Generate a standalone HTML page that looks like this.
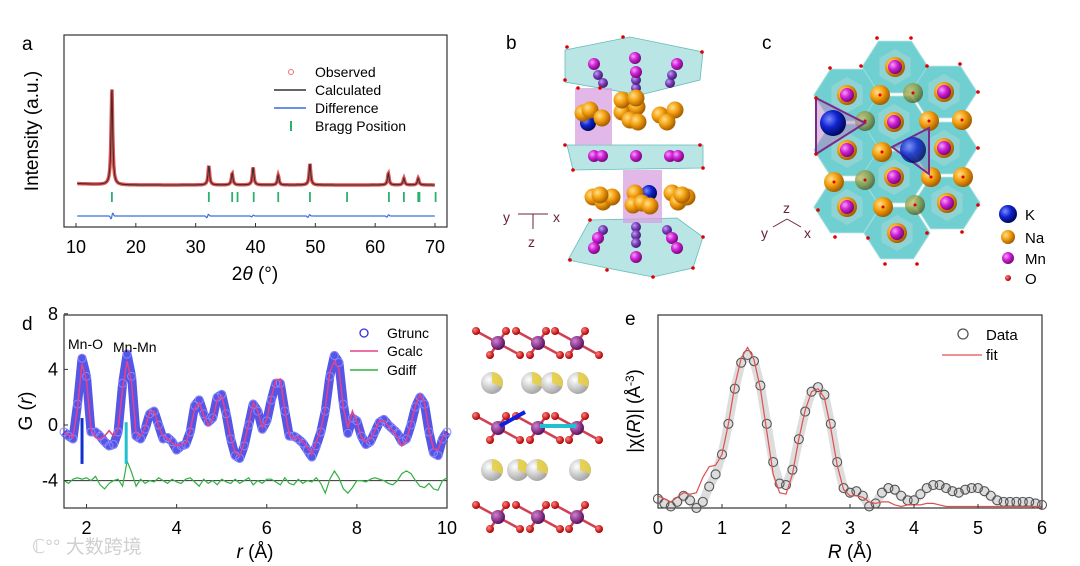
<!DOCTYPE html>
<html><head><meta charset="utf-8"><style>
html,body{margin:0;padding:0;background:#fff;}
svg{display:block;font-family:"Liberation Sans","Noto Sans CJK SC",sans-serif;}
</style></head><body>
<svg id="fig" width="1080" height="566" viewBox="0 0 1080 566" xmlns="http://www.w3.org/2000/svg">
<defs>
<radialGradient id="gMn" cx="35%" cy="35%" r="65%"><stop offset="0" stop-color="#f6a0f6"/><stop offset="0.5" stop-color="#d020d8"/><stop offset="1" stop-color="#7a0a7a"/></radialGradient>
<radialGradient id="gMn2" cx="35%" cy="35%" r="65%"><stop offset="0" stop-color="#c0a0f0"/><stop offset="0.5" stop-color="#8040c0"/><stop offset="1" stop-color="#402070"/></radialGradient>
<radialGradient id="gNa" cx="35%" cy="35%" r="65%"><stop offset="0" stop-color="#ffe08a"/><stop offset="0.5" stop-color="#f4a010"/><stop offset="1" stop-color="#a86000"/></radialGradient>
<radialGradient id="gNaG" cx="35%" cy="35%" r="65%"><stop offset="0" stop-color="#c8c070"/><stop offset="0.6" stop-color="#8a9a40"/><stop offset="1" stop-color="#506030"/></radialGradient>
<radialGradient id="gK" cx="35%" cy="35%" r="65%"><stop offset="0" stop-color="#7a8cff"/><stop offset="0.5" stop-color="#1024d0"/><stop offset="1" stop-color="#000a60"/></radialGradient>
<radialGradient id="gO" cx="35%" cy="35%" r="65%"><stop offset="0" stop-color="#ff8080"/><stop offset="1" stop-color="#b00000"/></radialGradient>
<radialGradient id="gW" cx="35%" cy="35%" r="65%"><stop offset="0" stop-color="#ffffff"/><stop offset="1" stop-color="#a8a8a8"/></radialGradient>
<radialGradient id="gP" cx="35%" cy="35%" r="65%"><stop offset="0" stop-color="#d080d0"/><stop offset="1" stop-color="#601060"/></radialGradient>
</defs>

<g>
<text x="22" y="50" font-size="19">a</text>
<rect x="64" y="35" width="383" height="192" fill="none" stroke="#333" stroke-width="1.2"/>
<g id="aMarks"></g>
<g id="aTicks"></g>
<text transform="translate(38,131) rotate(-90)" font-size="19" text-anchor="middle">Intensity (a.u.)</text>
<text x="255" y="280" font-size="19" text-anchor="middle">2<tspan font-style="italic">θ</tspan> (°)</text>
<g font-size="14">
<circle cx="291" cy="72" r="2.5" fill="none" stroke="#f07070"/>
<text x="315" y="77">Observed</text>
<line x1="274" y1="90" x2="306" y2="90" stroke="#333" stroke-width="1.5"/>
<text x="315" y="95">Calculated</text>
<line x1="274" y1="108" x2="306" y2="108" stroke="#3a6fd8" stroke-width="1.5"/>
<text x="315" y="113">Difference</text>
<line x1="291" y1="121" x2="291" y2="131" stroke="#2cb070" stroke-width="2"/>
<text x="315" y="131">Bragg Position</text>
</g>
</g>

<g>
<text x="506" y="49" font-size="19">b</text>
<g id="bStruct"></g>
<g fill="#6a2040" font-size="14">
<text x="503" y="222">y</text><text x="553" y="222">x</text><text x="528" y="247">z</text>
<line x1="518" y1="214" x2="548" y2="214" stroke="#6a2040"/><line x1="533" y1="214" x2="533" y2="229" stroke="#6a2040"/>
</g>
</g>

<g>
<text x="762" y="49" font-size="19">c</text>
<g id="cStruct"></g>
<g fill="#6a2040" font-size="14">
<text x="761" y="238">y</text><text x="783" y="213">z</text><text x="804" y="238">x</text>
<line x1="787" y1="219" x2="773" y2="227" stroke="#6a2040"/><line x1="787" y1="219" x2="801" y2="227" stroke="#6a2040"/>
</g>
<g font-size="15">
<circle cx="1008" cy="214" r="9" fill="url(#gK)"/><text x="1025" y="220">K</text>
<circle cx="1008" cy="237" r="7" fill="url(#gNa)"/><text x="1025" y="243">Na</text>
<circle cx="1008" cy="258" r="6" fill="url(#gMn)"/><text x="1025" y="264">Mn</text>
<circle cx="1008" cy="278" r="3" fill="url(#gO)"/><text x="1025" y="284">O</text>
</g>
</g>

<g>
<text x="22" y="330" font-size="19">d</text>
<rect x="64" y="315" width="383" height="193" fill="none" stroke="#333" stroke-width="1.2"/>
<g id="dMarks"></g>
<g id="dTicks"></g>
<text transform="translate(32,411) rotate(-90)" font-size="19" text-anchor="middle">G (<tspan font-style="italic">r</tspan>)</text>
<text x="255" y="558" font-size="19" text-anchor="middle"><tspan font-style="italic">r</tspan> (Å)</text>
<text x="68" y="349" font-size="14">Mn-O</text>
<text x="113" y="352" font-size="14">Mn-Mn</text>
<g font-size="14">
<circle cx="364" cy="333" r="4" fill="none" stroke="#3030e0" stroke-width="1.3"/><text x="387" y="338">Gtrunc</text>
<line x1="350" y1="351" x2="378" y2="351" stroke="#e8408a" stroke-width="1.5"/><text x="387" y="356">Gcalc</text>
<line x1="350" y1="370" x2="378" y2="370" stroke="#30b040" stroke-width="1.5"/><text x="387" y="375">Gdiff</text>
</g>
</g>

<g id="dStruct"></g>

<g>
<text x="625" y="325" font-size="19">e</text>
<rect x="658" y="315" width="384" height="193" fill="none" stroke="#333" stroke-width="1.2"/>
<g id="eMarks"></g>
<g id="eTicks"></g>
<text transform="translate(640,411) rotate(-90)" font-size="18" text-anchor="middle">|χ(<tspan font-style="italic">R</tspan>)| (Å<tspan dy="-6" font-size="12">-3</tspan><tspan dy="6">)</tspan></text>
<text x="850" y="558" font-size="19" text-anchor="middle"><tspan font-style="italic">R</tspan> (Å)</text>
<g font-size="15">
<circle cx="963" cy="334" r="5" fill="none" stroke="#555" stroke-width="1.3"/><text x="986" y="340">Data</text>
<line x1="942" y1="355" x2="982" y2="355" stroke="#e05050" stroke-width="1.2"/><text x="986" y="360">fit</text>
</g>
</g>

<text x="32" y="553" font-size="19" fill="#d0d0d0">ℂ°° 大数跨境</text>
</svg>
<script>
// ---------- Panel a data ----------
const aPeakPos = [16.0, 32.2, 36.1, 39.6, 43.8, 49.1, 62.2, 64.8, 67.2];
const aPeakHeight = [100, 20, 12, 18, 10, 22, 12, 7, 7];
const aBraggPos = [16.0, 32.2, 36.1, 37.0, 39.7, 43.8, 49.1, 55.3, 62.3, 64.8, 67.2, 67.4, 70.1];
const aDiffPos = [16.0, 32.0, 39.5, 48.9, 62.1];
const aDiffAmp = [5, 3, 1.5, 2.5, 2];
const aXTicks = [10, 20, 30, 40, 50, 60, 70];

// ---------- Panel d data ----------
const dR = [1.5,1.6,1.7,1.8,1.9,2.0,2.1,2.2,2.3,2.4,2.5,2.6,2.7,2.8,2.9,3.0,3.1,3.2,3.3,3.4,3.5,3.6,3.7,3.8,3.9,4.0,4.1,4.2,4.3,4.4,4.5,4.6,4.7,4.8,4.9,5.0,5.1,5.2,5.3,5.4,5.5,5.6,5.7,5.8,5.9,6.0,6.1,6.2,6.3,6.4,6.5,6.6,6.7,6.8,6.9,7.0,7.1,7.2,7.3,7.4,7.5,7.6,7.7,7.8,7.9,8.0,8.1,8.2,8.3,8.4,8.5,8.6,8.7,8.8,8.9,9.0,9.1,9.2,9.3,9.4,9.5,9.6,9.7,9.8,9.9,10.0];
const dGtrunc = [-0.5,-0.8,-1.0,1.5,4.8,3.5,-0.5,-0.5,-0.8,-1.2,-1.5,-1.4,-0.5,3.0,5.1,3.5,-0.8,-1.0,-0.3,0.8,1.0,0.0,-1.0,-0.9,-1.2,-1.8,-1.5,-1.4,-0.5,1.4,1.8,0.8,0.2,0.5,2.0,2.2,0.8,-1.0,-2.2,-2.4,-1.5,0.0,1.5,1.0,-0.3,0.3,1.8,3.0,3.0,1.0,-0.8,-0.8,-1.0,-1.3,-1.8,-2.3,-1.5,-0.5,1.0,3.5,5.0,4.5,1.5,-0.6,0.5,0.3,-0.8,-1.4,-1.2,-0.5,0.2,0.4,0.0,-0.3,-0.6,-1.2,-1.0,0.0,1.3,2.0,1.5,-0.5,-2.0,-2.2,-1.0,-0.5];
const dGcalc = [-0.6,-0.7,-0.9,1.2,4.4,3.2,-0.3,-0.9,-1.0,-0.8,-0.4,-0.8,-0.3,2.6,4.6,3.0,-0.6,-0.8,-0.2,0.9,1.0,-0.1,-0.8,-1.0,-1.3,-1.5,-1.4,-1.3,-0.4,1.2,1.6,0.7,0.0,0.4,1.8,2.1,0.7,-0.9,-2.0,-2.2,-1.3,0.1,1.6,1.0,-0.2,0.4,2.0,3.2,3.3,1.1,-0.7,-1.0,-0.9,-1.2,-1.6,-2.1,-1.2,-0.3,1.2,3.8,4.6,4.0,1.2,-0.2,1.0,0.2,-0.9,-1.2,-1.0,-0.4,0.3,0.3,-0.1,-0.4,-0.9,-1.5,-1.1,0.1,1.4,2.2,1.6,-0.4,-1.7,-1.8,-0.9,-0.6];
const dGdiff = [-4.0,-4.2,-3.9,-3.8,-3.9,-3.8,-4.0,-3.7,-4.3,-4.6,-4.2,-4.0,-3.9,-4.4,-2.6,-3.4,-4.4,-3.9,-4.2,-4.0,-4.1,-3.8,-4.0,-4.2,-3.9,-4.1,-4.2,-3.9,-3.8,-4.1,-4.4,-3.9,-4.2,-4.0,-4.3,-3.9,-4.1,-4.2,-3.9,-4.2,-4.0,-3.8,-4.3,-4.0,-4.2,-3.9,-3.9,-4.1,-4.3,-3.8,-4.2,-4.3,-3.9,-4.2,-4.0,-4.1,-3.8,-4.2,-4.9,-3.9,-3.3,-3.8,-4.6,-4.9,-4.5,-4.0,-4.0,-4.1,-3.9,-3.8,-3.9,-4.0,-4.2,-4.3,-4.0,-3.5,-3.3,-3.5,-4.0,-4.4,-4.5,-4.2,-4.6,-4.7,-4.0,-3.8];
const dXTicks = [2, 4, 6, 8, 10];
const dYTicks = [-4, 0, 4, 8];

// ---------- Panel e data ----------
const eR = [0,0.1,0.2,0.3,0.4,0.5,0.6,0.7,0.8,0.9,1.0,1.1,1.2,1.3,1.4,1.5,1.6,1.7,1.8,1.9,2.0,2.1,2.2,2.3,2.4,2.5,2.6,2.7,2.8,2.9,3.0,3.1,3.2,3.3,3.4,3.5,3.6,3.7,3.8,3.9,4.0,4.1,4.2,4.3,4.4,4.5,4.6,4.7,4.8,4.9,5.0,5.1,5.2,5.3,5.4,5.5,5.6,5.7,5.8,5.9,6.0];
const eData = [0.06,0.03,0.01,0.04,0.08,0.05,0.0,0.04,0.14,0.22,0.35,0.55,0.78,0.95,1.0,0.96,0.8,0.55,0.3,0.16,0.15,0.25,0.45,0.63,0.76,0.79,0.74,0.55,0.3,0.13,0.1,0.11,0.08,0.01,0.03,0.1,0.13,0.12,0.08,0.05,0.05,0.09,0.13,0.15,0.15,0.13,0.11,0.1,0.12,0.13,0.13,0.11,0.08,0.05,0.04,0.04,0.04,0.04,0.04,0.03,0.02];
const eFit = [0.08,0.06,0.04,0.07,0.1,0.09,0.1,0.2,0.27,0.28,0.35,0.55,0.8,0.98,1.05,0.97,0.78,0.5,0.22,0.1,0.09,0.22,0.45,0.64,0.76,0.78,0.72,0.52,0.28,0.12,0.08,0.08,0.07,0.04,0.03,0.04,0.04,0.02,0.01,0.02,0.02,0.02,0.03,0.03,0.02,0.01,0.01,0.01,0.01,0.01,0.01,0.01,0.01,0.01,0.01,0.01,0.01,0.01,0.01,0.01,0.01];
const eXTicks = [0, 1, 2, 3, 4, 5, 6];

const NS = "http://www.w3.org/2000/svg";
function mk(tag, attrs, parent){const e=document.createElementNS(NS,tag);for(const k in attrs)e.setAttribute(k,attrs[k]);parent.appendChild(e);return e;}
function pathOf(xs, ys){return xs.map((x,i)=>(i?'L':'M')+x.toFixed(1)+' '+ys[i].toFixed(1)).join(' ');}

// ----- Panel a -----
const ax = v => 76 + (v-10)*(359/60);
const ay = v => 185 - v*0.97;
(function(){
  const g = document.getElementById('aMarks');
  const xs=[], calc=[], dif=[];
  for(let t=10.2; t<=70; t+=0.06){
    let c = Math.max(0, 1.5 - (t-10)*0.25);
    aPeakPos.forEach((p,i)=>{const w=0.16; const z=(t-p)/w; c += aPeakHeight[i]/(1+z*z);});
    let d=0;
    aDiffPos.forEach((p,i)=>{const z=(t-p)/0.25; d += aDiffAmp[i]*Math.exp(-(z*z))*Math.sin((t-p)*6);});
    xs.push(ax(t)); calc.push(ay(c)); dif.push(216 - d);
  }
  const band = mk('path',{d:pathOf(xs,calc),fill:'none',stroke:'#e83030','stroke-width':3.5,'stroke-opacity':0.85},g);
  
  
  const cl = mk('path',{d:pathOf(xs,calc),fill:'none',stroke:'#333','stroke-width':1.1},g);
  
  
  const df = mk('path',{d:pathOf(xs,dif),fill:'none',stroke:'#3a6fd8','stroke-width':1.2},g);
  
  
  aBraggPos.forEach(p=>{
    const b = mk('line',{x1:ax(p),x2:ax(p),y1:192,y2:202,stroke:'#2cb070','stroke-width':1.8},g);
    
    
  });
  const tg = document.getElementById('aTicks');
  aXTicks.forEach(t=>{
    mk('line',{x1:ax(t),x2:ax(t),y1:227,y2:223,stroke:'#333'},tg);
    const tx = mk('text',{x:ax(t),y:253,'font-size':18,'text-anchor':'middle'},tg);
    tx.textContent=t;
    
    
  });
})();

// ----- Panel d -----
const dx = v => 64 + (v-1.5)*(383/8.5);
const dy = v => 425 - v*13.9;
(function(){
  const g = document.getElementById('dMarks');
  mk('line',{x1:64,x2:447,y1:dy(-4),y2:dy(-4),stroke:'#333','stroke-width':1},g);
  const xs=dR.map(dx);
  const band = mk('path',{d:pathOf(xs,dGtrunc.map(dy)),fill:'none',stroke:'#2a2ae0','stroke-width':9,'stroke-opacity':0.8,'stroke-linejoin':'round'},g);
  
  
  dR.forEach((r,i)=>{
    const c = mk('circle',{cx:dx(r),cy:dy(dGtrunc[i]),r:4,fill:'none',stroke:'#8888ff','stroke-width':1},g);
    
    
  });
  const cl = mk('path',{d:pathOf(xs,dGcalc.map(dy)),fill:'none',stroke:'#e8408a','stroke-width':1.5},g);
  
  
  const df = mk('path',{d:pathOf(xs,dGdiff.map(dy)),fill:'none',stroke:'#30b040','stroke-width':1.2},g);
  
  
  const m1 = mk('line',{x1:dx(1.9),x2:dx(1.9),y1:dy(0.5),y2:dy(-2.8),stroke:'#1030d0','stroke-width':3},g);
  
  
  const m2 = mk('line',{x1:dx(2.88),x2:dx(2.88),y1:dy(0.2),y2:dy(-2.8),stroke:'#20c0d0','stroke-width':3},g);
  
  
  const tg = document.getElementById('dTicks');
  dXTicks.forEach(t=>{
    mk('line',{x1:dx(t),x2:dx(t),y1:508,y2:504,stroke:'#333'},tg);
    const tx = mk('text',{x:dx(t),y:534,'font-size':18,'text-anchor':'middle'},tg);
    tx.textContent=t;
    
    
  });
  dYTicks.forEach(t=>{
    mk('line',{x1:64,x2:68,y1:dy(t),y2:dy(t),stroke:'#333'},tg);
    const tx = mk('text',{x:58,y:dy(t)+6,'font-size':18,'text-anchor':'end'},tg);
    tx.textContent=t;
    
    
  });
})();

// ----- Panel e -----
const ex = v => 658 + v*64;
const ey = v => 508 - v*153;
(function(){
  const g = document.getElementById('eMarks');
  const band = mk('path',{d:pathOf(eR.map(ex),eData.map(ey)),fill:'none',stroke:'#777','stroke-width':9,'stroke-opacity':0.25,'stroke-linejoin':'round'},g);
  
  
  eR.forEach((r,i)=>{
    const c = mk('circle',{cx:ex(r),cy:ey(eData[i]),r:4.5,fill:'none',stroke:'#555','stroke-width':1.1},g);
    
    
  });
  const fl = mk('path',{d:pathOf(eR.map(ex),eFit.map(ey)),fill:'none',stroke:'#e05050','stroke-width':1.2},g);
  
  
  const tg = document.getElementById('eTicks');
  eXTicks.forEach(t=>{
    mk('line',{x1:ex(t),x2:ex(t),y1:508,y2:504,stroke:'#333'},tg);
    const tx = mk('text',{x:ex(t),y:534,'font-size':18,'text-anchor':'middle'},tg);
    tx.textContent=t;
    
    
  });
})();

// ----- Panel b structure -----
(function(){
  const g = document.getElementById('bStruct');
  const polys=['565,50 630,37 703,52 700,80 640,95 565,82','567,145 703,145 703,168 573,170','568,260 590,220 677,218 703,237 693,268 653,277 607,268'];
  polys.forEach(p=>mk('polygon',{points:p,fill:'#8ad4d4','fill-opacity':0.6,stroke:'#6bb','stroke-width':0.8},g));
  mk('rect',{x:575,y:88,width:37,height:57,fill:'#d8a0e0','fill-opacity':0.75},g);
  mk('rect',{x:623,y:170,width:39,height:53,fill:'#d8a0e0','fill-opacity':0.75},g);
  [[603,83],[636,88],[670,83],[598,75],[636,80],[672,75]].forEach(p=>mk('circle',{cx:p[0],cy:p[1],r:5,fill:'url(#gMn2)'},g));
  [[594,64],[635,58],[677,64],[636,72]].forEach(p=>mk('circle',{cx:p[0],cy:p[1],r:6,fill:'url(#gMn)'},g));
  [[594,156],[602,156],[636,156],[670,156],[678,156]].forEach(p=>mk('circle',{cx:p[0],cy:p[1],r:6,fill:'url(#gMn)'},g));
  [[603,230],[636,227],[667,230],[636,235],[636,243]].forEach(p=>mk('circle',{cx:p[0],cy:p[1],r:5,fill:'url(#gMn2)'},g));
  [[598,238],[594,248],[636,257],[672,238],[677,248]].forEach(p=>mk('circle',{cx:p[0],cy:p[1],r:6,fill:'url(#gMn)'},g));
  mk('circle',{cx:588,cy:123,r:8,fill:'url(#gK)'},g);
  mk('circle',{cx:649,cy:193,r:8,fill:'url(#gK)'},g);
  [[583,113],[590,110],[602,118],[622,112],[637,107],[630,120],[638,122],[622,100],[636,98],[660,115],[675,110],[667,122],[593,197],[603,202],[612,197],[600,195],[635,193],[633,205],[642,203],[650,206],[672,193],[678,202],[687,197],[682,195]].forEach(p=>mk('circle',{cx:p[0],cy:p[1],r:8.5,fill:'url(#gNa)'},g));
  [[567,47],[623,37],[702,52],[565,80],[578,88],[600,88],[565,145],[573,170],[703,168],[700,145],[570,260],[607,270],[653,277],[693,268],[703,237],[590,220]].forEach(p=>mk('circle',{cx:p[0],cy:p[1],r:1.8,fill:'#d00'},g));
})();

// ----- Panel c structure -----
(function(){
  const g = document.getElementById('cStruct');
  const R=33;
  const mnC=[[895,67],[847,95],[944,92],[894,122],[847,150],[944,148],[894,177],[847,207],[947,203],[897,233]];
  mnC.forEach(c=>{
    const pts=[];for(let k=0;k<6;k++){const a=Math.PI/3*k;pts.push((c[0]+R*Math.cos(a)).toFixed(1)+','+(c[1]+R*Math.sin(a)*0.9).toFixed(1));}
    mk('polygon',{points:pts.join(' '),fill:'#70cfd0',stroke:'#9adcdc','stroke-width':1},g);
  });
  mnC.forEach(c=>{
    const pts2=[];for(let k=0;k<6;k++){const a=Math.PI/3*k+Math.PI/6;pts2.push((c[0]+18*Math.cos(a)).toFixed(1)+','+(c[1]+18*Math.sin(a)).toFixed(1));}
    mk('polygon',{points:pts2.join(' '),fill:'#a8d8d8','fill-opacity':0.55},g);
  });
  mnC.forEach(p=>{
    mk('circle',{cx:p[0],cy:p[1],r:10,fill:'url(#gNa)'},g);
    mk('circle',{cx:p[0],cy:p[1],r:7,fill:'url(#gMn)'},g);
  });
  [[880,95],[929,121],[962,120],[882,152],[834,182],[931,177],[963,177],[883,207]].forEach(p=>{mk('circle',{cx:p[0],cy:p[1],r:10,fill:'url(#gNa)'},g);mk('circle',{cx:p[0],cy:p[1],r:1.5,fill:'#d00'},g);});
  [[913,93],[865,121],[865,180],[915,205]].forEach(p=>{mk('circle',{cx:p[0],cy:p[1],r:10,fill:'url(#gNaG)','fill-opacity':0.8},g);mk('circle',{cx:p[0],cy:p[1],r:1.5,fill:'#d00'},g);});
  mk('polygon',{points:'816,98 816,154 865,123',fill:'#c080c0','fill-opacity':0.5,stroke:'#7a2a8a','stroke-width':2},g);
  mk('circle',{cx:833,cy:123,r:13,fill:'url(#gK)'},g);
  mk('polygon',{points:'892,147 929,128 929,174',fill:'#7090c0','fill-opacity':0.5,stroke:'#7a2a8a','stroke-width':2},g);
  mk('circle',{cx:913,cy:150,r:13,fill:'url(#gK)','fill-opacity':0.8},g);
  [[877,38],[911,38],[830,68],[861,66],[927,66],[960,64],[978,92],[816,98],[816,154],[978,148],[978,205],[818,210],[962,232],[835,237],[868,238],[927,233],[885,264],[917,264]].forEach(p=>mk('circle',{cx:p[0],cy:p[1],r:1.8,fill:'#d00'},g));
})();

// ----- Panel d layer structure -----
(function(){
  const g = document.getElementById('dStruct');
  [343,428,517].forEach(y=>{
    [498,538,577].forEach(x=>{
      [[-22,-12],[8,-12],[-8,12],[22,12]].forEach(o=>{
        mk('line',{x1:x,y1:y,x2:x+o[0],y2:y+o[1],stroke:'#d04050','stroke-width':2.5},g);
        mk('circle',{cx:x+o[0],cy:y+o[1],r:4,fill:'url(#gO)'},g);
      });
      mk('circle',{cx:x,cy:y,r:7,fill:'url(#gP)'},g);
    });
  });
  [[492,383],[532,383],[552,383],[578,383],[492,470],[518,470],[537,470],[580,470]].forEach(p=>{
    mk('circle',{cx:p[0],cy:p[1],r:11,fill:'url(#gW)'},g);
    mk('path',{d:`M${p[0]} ${p[1]} L${p[0]} ${p[1]-11} A11 11 0 0 1 ${p[0]+10} ${p[1]+4} Z`,fill:'#e8d040','fill-opacity':0.85},g);
  });
  mk('line',{x1:500,y1:426,x2:525,y2:412,stroke:'#1020e0','stroke-width':4},g);
  mk('line',{x1:540,y1:426,x2:576,y2:426,stroke:'#20c0d0','stroke-width':4},g);
})();
</script>
</body></html>
